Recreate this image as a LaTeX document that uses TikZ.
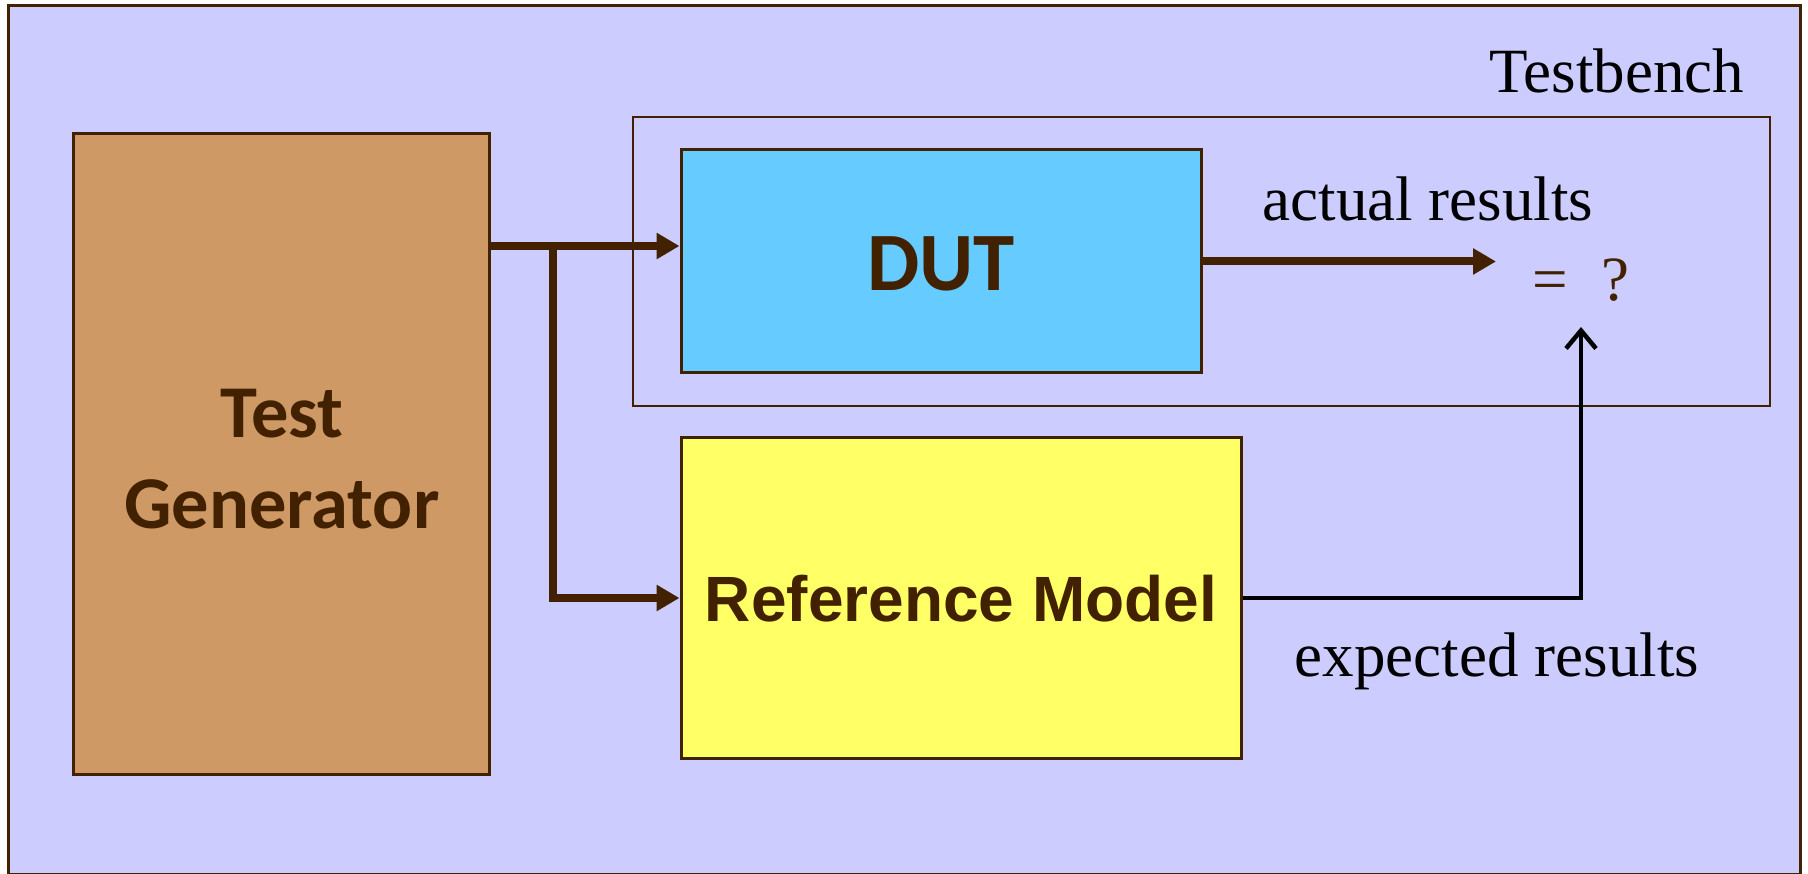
\documentclass[tikz,border=0pt]{standalone}
\usepackage{fontspec}
\setmainfont{Liberation Serif}
\newfontfamily\calibrifont{Carlito}
\newfontfamily\arialfont{Liberation Sans}
\usetikzlibrary{arrows.meta}

\definecolor{bgblue}{RGB}{204,204,255}
\definecolor{tgorange}{RGB}{207,153,102}
\definecolor{dutblue}{RGB}{102,204,255}
\definecolor{refyellow}{RGB}{255,255,102}
\definecolor{darkbrown}{RGB}{66,33,0}

\begin{document}
\begin{tikzpicture}[x=1pt,y=-1pt,
  blockbox/.style={draw=darkbrown, line width=3pt, inner sep=0pt, text=darkbrown},
  labeltext/.style={anchor=base, inner sep=0pt, font=\fontsize{63}{76}\selectfont},
  flow/.style={draw=darkbrown, line width=8pt, -{Triangle[length=23pt,width=25pt]}},
  result/.style={draw=black, line width=4.5pt, -{Straight Barb[length=18pt,width=30pt]}}
]
% canvas and outer frame
\fill[white] (0,0) rectangle (1808,874);
\useasboundingbox (0,0) rectangle (1808,874);
\draw[darkbrown, line width=3pt, fill=bgblue] (8,6) rectangle (1800,874.5);

% testbench frame and its title
\node[draw=darkbrown, line width=2.5pt, inner sep=0pt,
      minimum width=1137pt, minimum height=289pt] (tbframe) at (1201.5,261.5) {};
\node[labeltext] (tbname) at (1617,93) {Testbench};

% blocks
\node[blockbox, fill=tgorange, minimum width=416pt, minimum height=640pt,
      align=center, font=\calibrifont\bfseries\fontsize{74.5}{91}\selectfont]
      (tg) at (281,454) {};
\node[text=darkbrown, inner sep=0pt, align=center,
      font=\calibrifont\bfseries\fontsize{74.5}{91}\selectfont]
      (tglabel) at (282,459) {Test\\Generator};
\node[blockbox, fill=dutblue, minimum width=520pt, minimum height=223pt,
      text height=59pt, text depth=0pt,
      font=\calibrifont\bfseries\fontsize{83}{99}\selectfont]
      (dut) at (941,261.5) {DUT};
\node[blockbox, fill=refyellow, minimum width=560pt, minimum height=320pt,
      text height=46pt, text depth=0pt,
      font=\arialfont\bfseries\fontsize{64}{77}\selectfont]
      (ref) at (961,598) {Reference Model};

% comparison
\node[labeltext, text=darkbrown] (cmp) at (1581,301) {=\hspace{33pt}?};
\coordinate (split) at (553,246);
\coordinate (cmpin) at (1496,262);
\coordinate (cmpbelow) at (1581,327);

% connectors
\draw[flow] (tg.east |- split) -- (dut.west |- split);
\draw[flow] (split) |- (ref.west);
\draw[flow] (dut.east) -- (dut.east -| cmpin);
\draw[result] (ref.east) -| (cmpbelow);

% connector labels
\node[labeltext] (actual) at (1428,221) {actual results};
\node[labeltext] (expected) at (1497,676) {expected results};
\end{tikzpicture}
\end{document}
